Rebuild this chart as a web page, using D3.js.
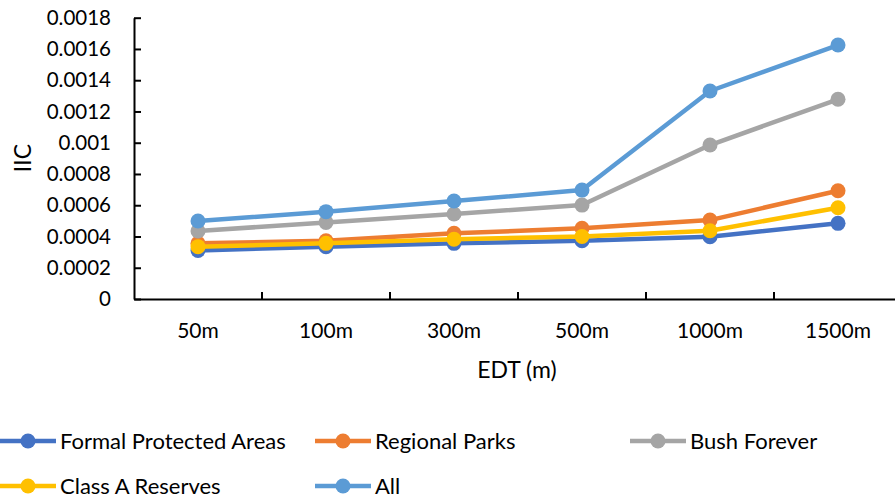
<!DOCTYPE html>
<html>
<head>
<meta charset="utf-8">
<script src="https://cdn.jsdelivr.net/npm/d3@7"></script>
<style>
  html, body { margin: 0; padding: 0; background: #fff; }
  svg { display: block; font-family: Lato, "Open Sans", sans-serif; }
</style>
</head>
<body>
<svg id="chart" width="895" height="499"></svg>
<script>
const categories = ["50m", "100m", "300m", "500m", "1000m", "1500m"];
const seriesNames = ["Formal Protected Areas", "Regional Parks", "Bush Forever", "Class A Reserves", "All"];
const formalProtected = [0.00031, 0.000335, 0.000356, 0.000373, 0.000399, 0.000484];
const regionalParks   = [0.000356, 0.000373, 0.00042, 0.000452, 0.000505, 0.000693];
const bushForever     = [0.000435, 0.00049, 0.000544, 0.000601, 0.000985, 0.001278];
const classAReserves  = [0.000335, 0.000356, 0.000382, 0.0004, 0.000437, 0.000584];
const allAreas        = [0.000499, 0.000559, 0.000627, 0.000697, 0.001331, 0.001625];
const yTicks = [0, 0.0002, 0.0004, 0.0006, 0.0008, 0.001, 0.0012, 0.0014, 0.0016, 0.0018];
const yTickLabels = ["0", "0.0002", "0.0004", "0.0006", "0.0008", "0.001", "0.0012", "0.0014", "0.0016", "0.0018"];
const colors = ["#4472C4", "#ED7D31", "#A5A5A5", "#FFC000", "#5B9BD5"];
const seriesValues = [formalProtected, regionalParks, bushForever, classAReserves, allAreas];

const svg = d3.select("#chart");
const x0 = 134, x1 = 902, yTop = 17.7, yBot = 299;

const x = d3.scaleBand().domain(categories).range([x0, x1]).padding(0);
const y = d3.scaleLinear().domain([0, 0.0018]).range([yBot, yTop]);

// Y axis
const yAxis = d3.axisLeft(y).tickValues(yTicks).tickSizeInner(-7).tickSizeOuter(0)
  .tickFormat((d, i) => yTickLabels[i]).tickPadding(23);
const gy = svg.append("g").attr("transform", `translate(${x0},0)`).call(yAxis);
gy.select(".domain").attr("stroke", "#000").attr("stroke-width", 2);
gy.selectAll(".tick line").attr("stroke", "#000").attr("stroke-width", 2);
gy.selectAll(".tick text").attr("font-size", 20.5).attr("fill", "#000")
  .attr("font-family", "Lato, sans-serif");

// X axis
const xAxis = d3.axisBottom(x).tickSize(0).tickSizeOuter(0).tickPadding(24);
const gx = svg.append("g").attr("transform", `translate(0,${yBot})`).call(xAxis);
gx.select(".domain").attr("stroke", "#000").attr("stroke-width", 2);
gx.selectAll(".tick text").attr("font-size", 21).attr("fill", "#000")
  .attr("font-family", "Lato, sans-serif");
// category boundary ticks (inside, upward)
const bounds = categories.slice(1).map(c => x(c));
svg.append("g").selectAll("line").data(bounds).join("line")
  .attr("x1", d => d).attr("x2", d => d)
  .attr("y1", yBot).attr("y2", yBot - 7)
  .attr("stroke", "#000").attr("stroke-width", 2);

// Axis titles
svg.append("text").attr("x", 517).attr("y", 378).attr("text-anchor", "middle")
  .attr("font-size", 23).attr("fill", "#000").text("EDT (m)");
svg.append("text").attr("transform", "translate(31,158) rotate(-90)")
  .attr("text-anchor", "middle").attr("font-size", 23).attr("fill", "#000").text("IIC");

// Series
const line = d3.line().x((d, i) => x(categories[i]) + x.bandwidth() / 2).y(d => y(d));
seriesValues.forEach((vals, s) => {
  const g = svg.append("g");
  g.append("path").datum(vals).attr("d", line).attr("fill", "none")
    .attr("stroke", colors[s]).attr("stroke-width", 4.5).attr("stroke-linejoin", "round");
  g.selectAll("circle").data(vals).join("circle")
    .attr("cx", (d, i) => x(categories[i]) + x.bandwidth() / 2)
    .attr("cy", d => y(d)).attr("r", 7.5).attr("fill", colors[s]);
});

// Legend
const legendPos = [[0, 441], [315, 441], [630, 441], [0, 486], [315, 486]];
seriesNames.forEach((name, s) => {
  const [lx, ly] = legendPos[s];
  const g = svg.append("g").attr("transform", `translate(${lx},${ly})`);
  g.append("line").attr("x1", 0).attr("x2", 56).attr("y1", 0).attr("y2", 0)
    .attr("stroke", colors[s]).attr("stroke-width", 4.5);
  g.append("circle").attr("cx", 28).attr("cy", 0).attr("r", 7.5).attr("fill", colors[s]);
  g.append("text").attr("x", 60).attr("y", 0).attr("dy", "0.35em")
    .attr("font-size", 22).attr("fill", "#000").text(name);
});
</script>
</body>
</html>
